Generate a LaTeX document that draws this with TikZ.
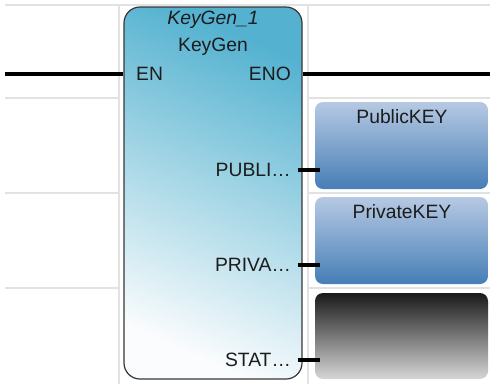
\documentclass[tikz,border=0pt]{standalone}
\usepackage{fontspec}
\setmainfont{Liberation Sans}
\definecolor{gridgray}{RGB}{226,226,226}
\definecolor{txt}{RGB}{28,28,28}
\definecolor{blkTop}{RGB}{84,178,208}
\definecolor{blkBot}{RGB}{250,252,253}
\definecolor{blkEdge}{RGB}{55,55,55}
\definecolor{varTop}{RGB}{182,201,227}
\definecolor{varBot}{RGB}{70,126,182}
\definecolor{emptyTop}{RGB}{26,26,26}
\definecolor{emptyBot}{RGB}{214,214,214}
\begin{document}
\begin{tikzpicture}[x=1pt,y=-1pt,
  grid/.style={draw=gridgray,line width=1.8pt},
  wire/.style={draw=black,line width=4.4pt},
  lbl/.style={inner sep=0pt,text=txt,font=\fontsize{19.3}{21}\selectfont},
  fbblock/.style={draw=blkEdge,line width=1.2pt,rounded corners=16pt,
    minimum width=178pt,minimum height=372pt,inner sep=0pt,
    top color=blkTop,bottom color=blkBot,shading angle=-24},
  varbox/.style={rounded corners=8pt,minimum width=173pt,minimum height=87pt,
    inner sep=0pt,top color=varTop,bottom color=varBot},
  emptybox/.style={rounded corners=8pt,minimum width=173pt,minimum height=86pt,
    inner sep=0pt,top color=emptyTop,bottom color=emptyBot}]
\useasboundingbox (0,0) rectangle (490,384);

% network grid
\draw[grid] (5,5) -- (490,5);
\draw[grid] (119,5) -- (119,384);
\draw[grid] (308,5) -- (308,384);
\foreach \yy in {98,193,288} {
  \draw[grid] (5,\yy) -- (119,\yy);
  \draw[grid] (308,\yy) -- (490,\yy);
}

% function block
\node[fbblock] (blk) at (213,193) {};
\node[lbl,font=\fontsize{19.3}{21}\selectfont\itshape] (inst) at (213,20) {KeyGen\_1};
\node[lbl] (type) at (213,47) {KeyGen};
\node[lbl,anchor=west] (en) at (136,74) {EN};
\node[lbl,anchor=east] (eno) at (291,74) {ENO};
\node[lbl,anchor=east] (pub) at (291,170) {PUBLI…};
\node[lbl,anchor=east] (priv) at (291,265) {PRIVA…};
\node[lbl,anchor=east] (stat) at (291,360) {STAT…};

% output variables
\node[varbox] (pubbox) at (401.5,145.5) {};
\node[lbl] (pubname) at (402,117) {PublicKEY};
\node[varbox] (privbox) at (401.5,240.5) {};
\node[lbl] (privname) at (402,212) {PrivateKEY};
\node[emptybox] (statbox) at (401.5,336) {};

% power rail and pins
\coordinate (railL) at (5,74);
\coordinate (railR) at (490,74);
\draw[wire] (railL) -- (blk.west |- railL);
\draw[wire] (blk.east |- railR) -- (railR);
\foreach \p/\b in {pub/pubbox,priv/privbox,stat/statbox} {
  \draw[wire] ([xshift=-5pt]blk.east |- \p) -- ([xshift=5pt]\b.west |- \p);
}
\end{tikzpicture}
\end{document}
